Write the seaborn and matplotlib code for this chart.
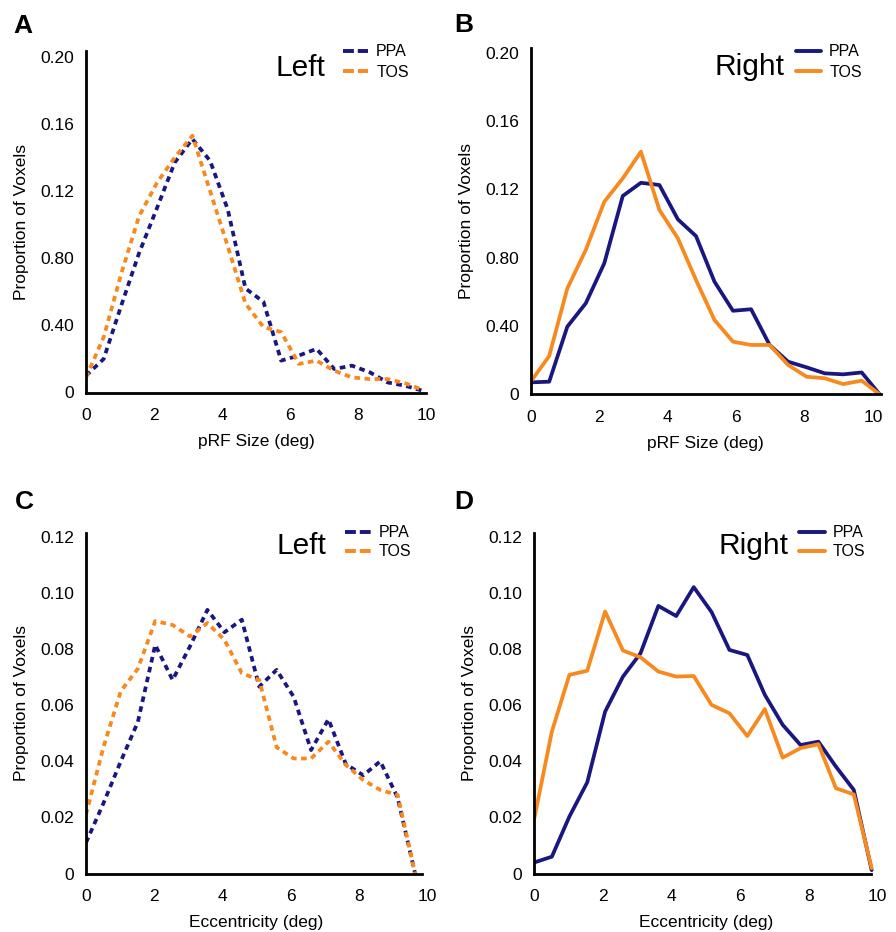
import matplotlib
matplotlib.use('Agg')
import matplotlib.pyplot as plt
import seaborn as sns

# colours
NAVY = '#1a1780'
ORANGE = '#f7891e'

# A: pRF size, left hemisphere (dashed)
x_size_left = [0.00, 0.52, 1.04, 1.56, 2.09, 2.61, 3.13, 3.65, 4.17, 4.69,
               5.22, 5.74, 6.26, 6.78, 7.30, 7.82, 8.35, 8.87, 9.39, 9.91]
ppa_size_left = [0.010, 0.020, 0.052, 0.083, 0.110, 0.137, 0.151, 0.138, 0.109, 0.062,
                 0.054, 0.019, 0.022, 0.026, 0.014, 0.016, 0.012, 0.006, 0.004, 0.001]
tos_size_left = [0.009, 0.033, 0.071, 0.105, 0.125, 0.140, 0.153, 0.120, 0.087, 0.053,
                 0.039, 0.036, 0.017, 0.019, 0.013, 0.009, 0.008, 0.008, 0.0055, 0.0015]

# B: pRF size, right hemisphere (solid)
x_size_right = [0.00, 0.54, 1.07, 1.61, 2.15, 2.69, 3.22, 3.76, 4.30, 4.83,
                5.37, 5.91, 6.44, 6.98, 7.52, 8.06, 8.59, 9.13, 9.67, 10.20]
ppa_size_right = [0.0071, 0.0075, 0.0397, 0.0534, 0.0768, 0.1162, 0.1239, 0.1226, 0.1025, 0.0927,
                  0.0660, 0.0490, 0.0499, 0.0290, 0.0192, 0.0159, 0.0124, 0.0118, 0.0129, 0.0]
tos_size_right = [0.0075, 0.0225, 0.0621, 0.0846, 0.1128, 0.1265, 0.1421, 0.1080, 0.0914, 0.0670,
                  0.0436, 0.0309, 0.0290, 0.0290, 0.0173, 0.0104, 0.0095, 0.0061, 0.0081, 0.0]

# C: eccentricity, left hemisphere (dashed)
x_ecc_left = [0.00, 0.51, 1.02, 1.52, 2.03, 2.54, 3.05, 3.56, 4.06, 4.57,
              5.08, 5.59, 6.09, 6.60, 7.11, 7.62, 8.13, 8.63, 9.14, 9.65]
ppa_ecc_left = [0.011, 0.025, 0.040, 0.054, 0.0815, 0.069, 0.081, 0.094, 0.086, 0.0905,
                0.0666, 0.0726, 0.063, 0.044, 0.055, 0.039, 0.035, 0.040, 0.027, 0.0]
tos_ecc_left = [0.021, 0.045, 0.065, 0.073, 0.090, 0.0886, 0.0845, 0.0893, 0.0833, 0.0714,
                0.069, 0.045, 0.041, 0.041, 0.047, 0.0387, 0.0333, 0.0298, 0.028, 0.0]

# D: eccentricity, right hemisphere (solid)
x_ecc_right = [0.00, 0.52, 1.03, 1.55, 2.07, 2.59, 3.10, 3.62, 4.14, 4.65,
               5.17, 5.69, 6.21, 6.72, 7.24, 7.76, 8.28, 8.79, 9.31, 9.83]
ppa_ecc_right = [0.0039, 0.006, 0.0203, 0.0325, 0.0577, 0.0702, 0.0785, 0.0954, 0.0918, 0.1021,
                 0.0932, 0.0797, 0.0779, 0.0637, 0.0530, 0.0458, 0.0470, 0.0381, 0.0298, 0.0012]
tos_ecc_right = [0.0191, 0.0506, 0.0708, 0.0723, 0.0934, 0.0795, 0.0771, 0.0720, 0.0702, 0.0704,
                 0.0601, 0.0571, 0.0490, 0.0586, 0.0413, 0.0447, 0.0461, 0.0304, 0.0282, 0.0019]

size_ticks = [0, 0.04, 0.08, 0.12, 0.16, 0.20]
size_ticklabels = ['0', '0.40', '0.80', '0.12', '0.16', '0.20']
ecc_ticks = [0, 0.02, 0.04, 0.06, 0.08, 0.10, 0.12]
ecc_ticklabels = ['0', '0.02', '0.04', '0.06', '0.08', '0.10', '0.12']
x_ticks = [0, 2, 4, 6, 8, 10]

sns.set_style('white')
plt.rcParams['font.family'] = ['Liberation Sans', 'DejaVu Sans']
plt.rcParams['text.color'] = 'black'
plt.rcParams['axes.labelcolor'] = 'black'
plt.rcParams['xtick.color'] = 'black'
plt.rcParams['ytick.color'] = 'black'

W, H = 896, 932
fig = plt.figure(figsize=(W / 100, H / 100), dpi=100)

LW = 2.7
DASH = (0, (1.5, 1.2))

panels = [
    dict(letter='A', letter_xy=(13, 32.7), rect=(86, 50.7, 340, 392.5), xmax=10.0, spine_end=10.0,
         x=x_size_left, ppa=ppa_size_left, tos=tos_size_left, dashed=True,
         ytop=0.2036, yticks=size_ticks, yticklabels=size_ticklabels, xlabel='pRF Size (deg)',
         title='Left', title_xy=(275, 76), leg_x=342.7, leg_y=53.3, leg_sp=0.35),
    dict(letter='B', letter_xy=(454, 31.7), rect=(530.7, 48.3, 349.8, 394.5), xmax=10.22, spine_end=10.22,
         x=x_size_right, ppa=ppa_size_right, tos=tos_size_right, dashed=False,
         ytop=0.2026, yticks=size_ticks, yticklabels=size_ticklabels, xlabel='pRF Size (deg)',
         title='Right', title_xy=(714.7, 75), leg_x=795.7, leg_y=53.3, leg_sp=0.35),
    dict(letter='C', letter_xy=(15, 509.3), rect=(86, 532.7, 341, 873.5), xmax=10.0, spine_end=9.86,
         x=x_ecc_left, ppa=ppa_ecc_left, tos=tos_ecc_left, dashed=True,
         ytop=0.1215, yticks=ecc_ticks, yticklabels=ecc_ticklabels, xlabel='Eccentricity (deg)',
         title='Left', title_xy=(276, 554.3), leg_x=345, leg_y=534.3, leg_sp=0.25),
    dict(letter='D', letter_xy=(454, 508.7), rect=(534, 532.7, 343.5, 873.5), xmax=10.0, spine_end=9.82,
         x=x_ecc_right, ppa=ppa_ecc_right, tos=tos_ecc_right, dashed=False,
         ytop=0.1215, yticks=ecc_ticks, yticklabels=ecc_ticklabels, xlabel='Eccentricity (deg)',
         title='Right', title_xy=(718, 554.3), leg_x=799, leg_y=534.3, leg_sp=0.25),
]

for p in panels:
    left, top, width, y0 = p['rect']
    ax = fig.add_axes([left / W, 1 - y0 / H, width / W, (y0 - top) / H])
    ls = DASH if p['dashed'] else '-'
    sns.lineplot(x=p['x'], y=p['ppa'], ax=ax, color=NAVY, lw=LW, linestyle=ls, label='PPA')
    sns.lineplot(x=p['x'], y=p['tos'], ax=ax, color=ORANGE, lw=LW, linestyle=ls, label='TOS')

    ax.set_xlim(0, p['xmax'])
    ax.set_ylim(0, p['ytop'])
    ax.set_xticks(x_ticks)
    ax.set_xticklabels([str(t) for t in x_ticks])
    ax.set_yticks(p['yticks'])
    ax.set_yticklabels(p['yticklabels'])
    ax.tick_params(axis='both', length=0, labelsize=12.5, colors='black')
    ax.tick_params(axis='x', pad=11)
    ax.tick_params(axis='y', pad=8.5)
    ax.set_xlabel(p['xlabel'], fontsize=12.5, labelpad=8)
    ax.set_ylabel('Proportion of Voxels', fontsize=12.5, labelpad=8)
    for s in ['top', 'right']:
        ax.spines[s].set_visible(False)
    for s in ['left', 'bottom']:
        ax.spines[s].set_color('black')
        ax.spines[s].set_linewidth(2)
    ax.spines['bottom'].set_bounds(0, p['spine_end'])

    tx, ty = p['title_xy']
    fig.text(tx / W, 1 - ty / H, p['title'], fontsize=21.5, ha='left', va='baseline')

    lx, ly = p['leg_x'], p['leg_y']
    leg = ax.legend(loc='upper left', bbox_to_anchor=(lx / W, 1 - (ly - 9.2) / H),
                    bbox_transform=fig.transFigure, frameon=False, fontsize=11.5,
                    handlelength=1.6, handletextpad=0.5, borderpad=0, borderaxespad=0,
                    labelspacing=p['leg_sp'])
    for line in leg.get_lines():
        line.set_linewidth(2.8)
        if p['dashed']:
            line.set_linestyle((0, (2.8, 1.0)))

    lx0, ly0 = p['letter_xy']
    fig.text(lx0 / W, 1 - ly0 / H, p['letter'], fontsize=19, fontweight='bold',
             ha='left', va='baseline')

fig.savefig('out.png', dpi=100)
